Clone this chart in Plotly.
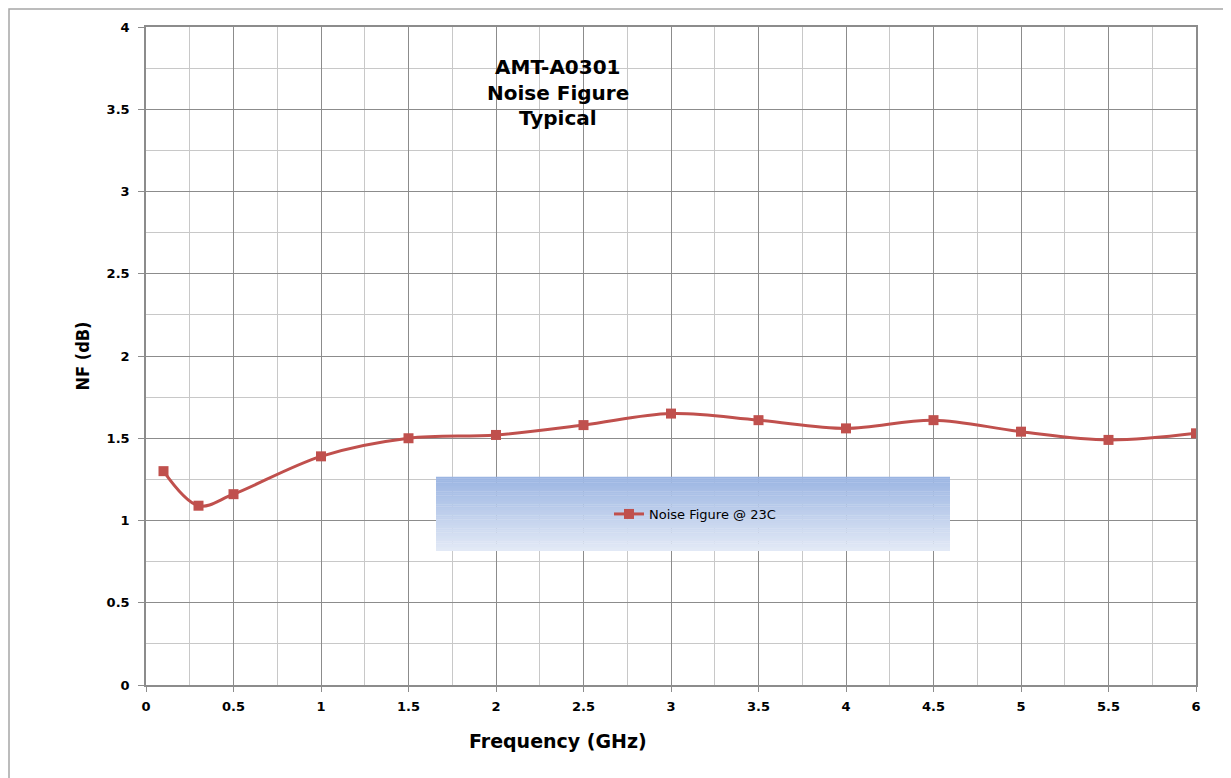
import plotly.graph_objects as go

freq_ghz = [0.1, 0.3, 0.5, 1.0, 1.5, 2.0, 2.5, 3.0, 3.5, 4.0, 4.5, 5.0, 5.5, 6.0]
nf_db = [1.30, 1.09, 1.16, 1.39, 1.50, 1.52, 1.58, 1.65, 1.61, 1.56, 1.61, 1.54, 1.49, 1.53]
series_name = "Noise Figure @ 23C"
title_lines = ["AMT-A0301", "Noise Figure", "Typical"]
x_title = "Frequency (GHz)"
y_title = "NF (dB)"
x_ticks = [0, 0.5, 1, 1.5, 2, 2.5, 3, 3.5, 4, 4.5, 5, 5.5, 6]
x_tick_labels = ["0", "0.5", "1", "1.5", "2", "2.5", "3", "3.5", "4", "4.5", "5", "5.5", "6"]
y_ticks = [0, 0.5, 1, 1.5, 2, 2.5, 3, 3.5, 4]
y_tick_labels = ["0", "0.5", "1", "1.5", "2", "2.5", "3", "3.5", "4"]

OFF = 8  # page body margin
W, H = 1231 - OFF, 778 - OFF
# plot area in page pixels
L, R, T, B = 146, 1196, 27, 685
pw, ph = R - L, B - T


def px2paper_x(px):
    return (px - L) / pw


def px2paper_y(py):
    return (B - py) / ph


fig = go.Figure()
fig.add_trace(go.Scatter(
    x=freq_ghz, y=nf_db, name=series_name, mode="lines+markers",
    line=dict(color="#C0504D", width=3, shape="spline", smoothing=1.0),
    marker=dict(symbol="square", size=10, color="#C0504D"),
    showlegend=True,
))

shapes = []
# gradient legend box (stacked strips)
x0, x1 = px2paper_x(436), px2paper_x(950)
top_py, bot_py = 477, 551
n = 40
c_top = (155, 181, 226)
c_bot = (226, 233, 246)
for i in range(n):
    t = i / (n - 1)
    c = tuple(int(round(c_top[k] + (c_bot[k] - c_top[k]) * t)) for k in range(3))
    ya = top_py + (bot_py - top_py) * i / n
    yb = top_py + (bot_py - top_py) * (i + 1) / n
    shapes.append(dict(type="rect", xref="paper", yref="paper",
                       x0=x0, x1=x1, y0=px2paper_y(yb), y1=px2paper_y(ya) + 0.0005,
                       line=dict(width=0), fillcolor="rgb(%d,%d,%d)" % c, layer="above"))
# outer border
shapes.append(dict(type="rect", xref="paper", yref="paper",
                   x0=px2paper_x(9), x1=px2paper_x(1228), y0=px2paper_y(790), y1=px2paper_y(9),
                   line=dict(color="#A6A6A6", width=1.5), fillcolor="rgba(0,0,0,0)", layer="above"))

annotations = []
for line_text, cy in zip(title_lines, [67, 93, 118]):
    annotations.append(dict(
        text=line_text, xref="paper", yref="paper",
        x=px2paper_x(558), y=px2paper_y(cy), xanchor="center", yanchor="middle",
        showarrow=False, align="center",
        font=dict(family="DejaVu Sans", size=20, color="#000", weight="bold"),
    ))
annotations.append(dict(
    text=x_title, xref="paper", yref="paper",
    x=px2paper_x(558), y=px2paper_y(741), xanchor="center", yanchor="middle",
    showarrow=False,
    font=dict(family="DejaVu Sans", size=19, color="#000", weight="bold"),
))

fig.update_layout(
    width=W, height=H,
    margin=dict(l=L - OFF, r=W - (R - OFF), t=T - OFF, b=H - (B - OFF), pad=0),
    paper_bgcolor="white", plot_bgcolor="white",
    shapes=shapes,
    annotations=annotations,
    legend=dict(x=px2paper_x(695), y=px2paper_y(514), xanchor="center", yanchor="middle",
                bgcolor="rgba(0,0,0,0)", font=dict(family="DejaVu Sans", size=13, color="#000")),
    xaxis=dict(
        range=[0, 6], tickvals=x_ticks, ticktext=x_tick_labels,
        showgrid=True, gridcolor="#8C8C8C", gridwidth=1,
        minor=dict(dtick=0.25, showgrid=True, gridcolor="#C8C8C8", gridwidth=1, ticks=""),
        showline=True, linecolor="#8C8C8C", linewidth=1.5, mirror=True,
        ticks="outside", ticklen=5, tickcolor="#8C8C8C", ticklabelstandoff=4,
        tickfont=dict(family="DejaVu Sans", size=13, color="#000", weight="bold"),
        zeroline=False,
    ),
    yaxis=dict(
        range=[0, 4], tickvals=y_ticks, ticktext=y_tick_labels,
        showgrid=True, gridcolor="#8C8C8C", gridwidth=1,
        minor=dict(dtick=0.25, showgrid=True, gridcolor="#C8C8C8", gridwidth=1, ticks=""),
        showline=True, linecolor="#8C8C8C", linewidth=1.5, mirror=True,
        ticks="outside", ticklen=6, tickcolor="#8C8C8C", ticklabelstandoff=6,
        tickfont=dict(family="DejaVu Sans", size=13, color="#000", weight="bold"),
        zeroline=False,
        title=dict(text=y_title, standoff=12,
                   font=dict(family="Liberation Sans Narrow, DejaVu Sans Condensed", size=18,
                             color="#000", weight="bold")),
    ),
)

fig.write_html("out.html")
